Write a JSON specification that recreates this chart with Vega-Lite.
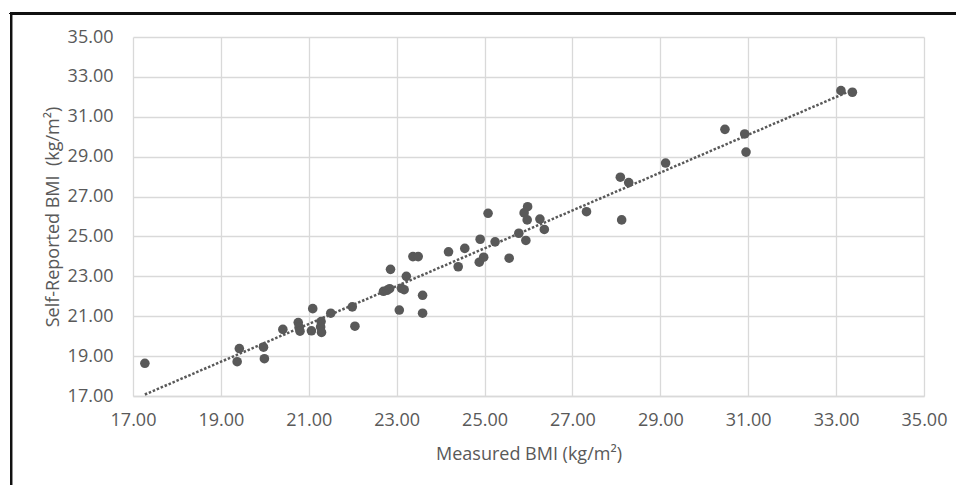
{
  "$schema": "https://vega.github.io/schema/vega-lite/v6.json",
  "width": 791,
  "height": 359,
  "autosize": {"type": "none"},
  "padding": {"left": 133, "top": 37, "right": 32, "bottom": 89},
  "background": "white",
  "config": {
    "view": {"stroke": null},
    "font": "Open Sans",
    "axis": {
      "gridColor": "#d9d9d9",
      "gridWidth": 1.3,
      "ticks": false,
      "labelColor": "#595959",
      "labelFontSize": 18,
      "labelOverlap": false,
      "labelFlush": false,
      "labelBound": false,
      "titleColor": "#595959",
      "titleFontSize": 18,
      "titleFontWeight": "normal"
    }
  },
  "data": {
    "values": [
      {"mr": 17.27, "sr": 18.64},
      {"mr": 19.37, "sr": 18.72},
      {"mr": 19.42, "sr": 19.38},
      {"mr": 19.97, "sr": 19.45},
      {"mr": 19.99, "sr": 18.87},
      {"mr": 20.41, "sr": 20.34},
      {"mr": 20.76, "sr": 20.68},
      {"mr": 20.78, "sr": 20.45},
      {"mr": 20.80, "sr": 20.25},
      {"mr": 21.09, "sr": 21.38},
      {"mr": 21.06, "sr": 20.27},
      {"mr": 21.28, "sr": 20.73},
      {"mr": 21.27, "sr": 20.46},
      {"mr": 21.29, "sr": 20.19},
      {"mr": 21.50, "sr": 21.15},
      {"mr": 21.99, "sr": 21.47},
      {"mr": 22.05, "sr": 20.50},
      {"mr": 22.86, "sr": 23.35},
      {"mr": 22.70, "sr": 22.25},
      {"mr": 22.78, "sr": 22.30},
      {"mr": 22.84, "sr": 22.38},
      {"mr": 23.06, "sr": 21.31},
      {"mr": 23.11, "sr": 22.40},
      {"mr": 23.17, "sr": 22.33},
      {"mr": 23.22, "sr": 23.00},
      {"mr": 23.59, "sr": 22.05},
      {"mr": 23.59, "sr": 21.15},
      {"mr": 23.37, "sr": 23.99},
      {"mr": 23.49, "sr": 23.99},
      {"mr": 24.18, "sr": 24.23},
      {"mr": 24.40, "sr": 23.48},
      {"mr": 24.55, "sr": 24.40},
      {"mr": 24.90, "sr": 24.86},
      {"mr": 24.88, "sr": 23.71},
      {"mr": 24.98, "sr": 23.96},
      {"mr": 25.08, "sr": 26.16},
      {"mr": 25.24, "sr": 24.73},
      {"mr": 25.56, "sr": 23.91},
      {"mr": 25.78, "sr": 25.16},
      {"mr": 25.94, "sr": 24.80},
      {"mr": 25.90, "sr": 26.18},
      {"mr": 25.98, "sr": 26.49},
      {"mr": 25.97, "sr": 25.83},
      {"mr": 26.26, "sr": 25.87},
      {"mr": 26.36, "sr": 25.35},
      {"mr": 27.32, "sr": 26.24},
      {"mr": 28.09, "sr": 27.97},
      {"mr": 28.12, "sr": 25.83},
      {"mr": 28.28, "sr": 27.70},
      {"mr": 29.12, "sr": 28.68},
      {"mr": 30.47, "sr": 30.37},
      {"mr": 30.92, "sr": 30.14},
      {"mr": 30.95, "sr": 29.23},
      {"mr": 33.11, "sr": 32.31},
      {"mr": 33.37, "sr": 32.23}
    ]
  },
  "encoding": {
    "x": {
      "field": "mr",
      "type": "quantitative",
      "scale": {"domain": [17, 35], "nice": false, "zero": false},
      "axis": {
        "values": [17, 19, 21, 23, 25, 27, 29, 31, 33, 35],
        "format": ".2f",
        "title": "Measured BMI (kg/m²)",
        "domainColor": "#d9d9d9",
        "domainWidth": 1.5,
        "labelPadding": 15,
        "titlePadding": 16
      }
    },
    "y": {
      "field": "sr",
      "type": "quantitative",
      "scale": {"domain": [17, 35], "nice": false, "zero": false},
      "axis": {
        "values": [17, 19, 21, 23, 25, 27, 29, 31, 33, 35],
        "format": ".2f",
        "title": "Self-Reported BMI\u00a0 (kg/m²)",
        "domain": false,
        "labelPadding": 20,
        "titlePadding": 5
      }
    }
  },
  "layer": [
    {
      "mark": {"type": "circle", "size": 92, "color": "#595959", "opacity": 1}
    },
    {
      "transform": [{"regression": "sr", "on": "mr", "method": "linear"}],
      "mark": {"type": "line", "color": "#595959", "strokeWidth": 2.5, "strokeDash": [2.5, 1.8]}
    },
    {
      "mark": {"type": "rule", "color": "#111111", "strokeWidth": 2, "clip": false},
      "encoding": {
        "x": {"datum": 14.224, "type": "quantitative"},
        "y": {"datum": 36.18, "type": "quantitative"},
        "y2": {"datum": 12.3}
      }
    },
    {
      "mark": {"type": "rule", "color": "#111111", "strokeWidth": 2, "clip": false},
      "encoding": {
        "y": {"datum": 36.18, "type": "quantitative"},
        "x": {"datum": 14.2, "type": "quantitative"},
        "x2": {"datum": 36}
      }
    }
  ]
}
